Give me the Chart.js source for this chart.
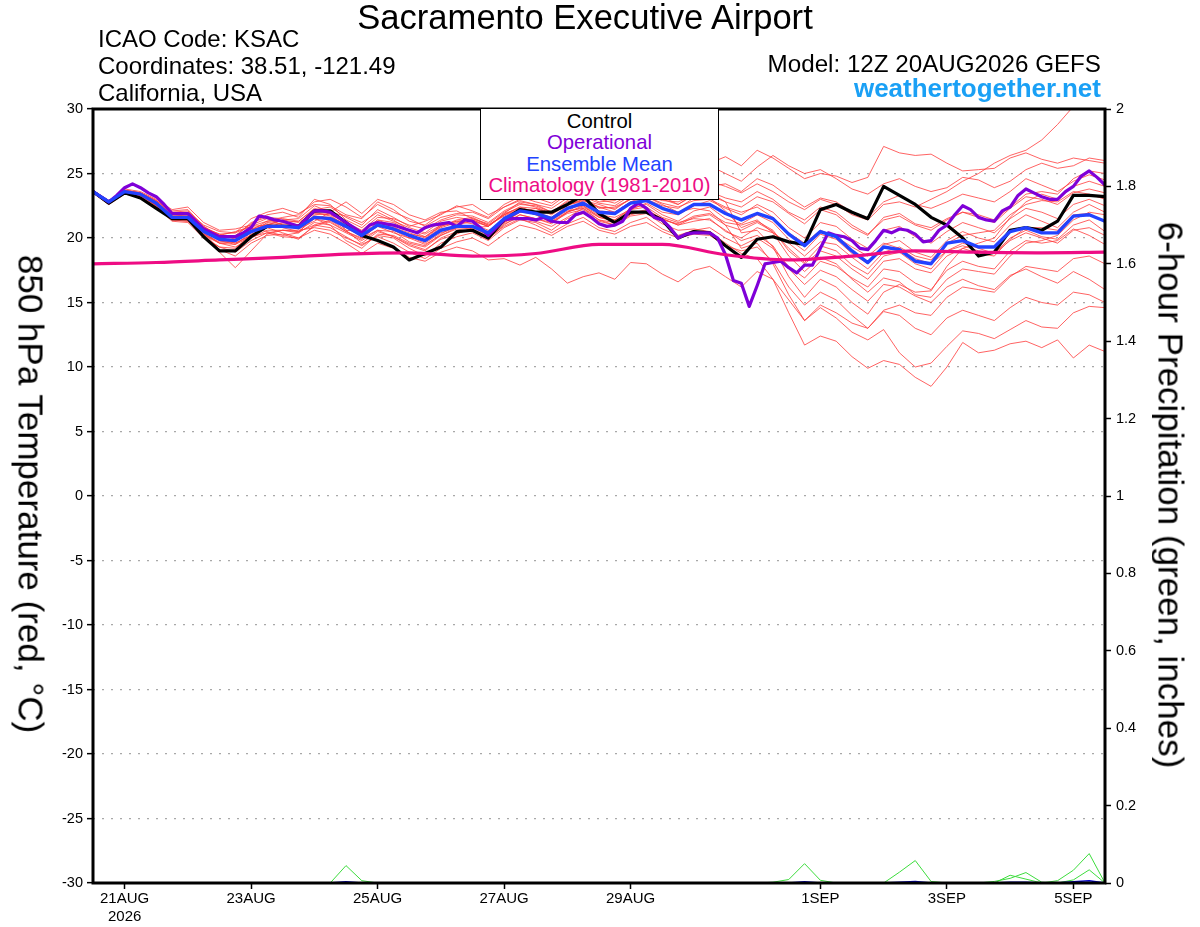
<!DOCTYPE html>
<html><head><meta charset="utf-8">
<script src="https://cdn.jsdelivr.net/npm/chart.js@4.4.1/dist/chart.umd.min.js"></script>
<style>
html,body{margin:0;padding:0;background:#fff;}
#wrap{position:relative;width:1200px;height:927px;overflow:hidden;font-family:"Liberation Sans",Arial,Helvetica,sans-serif;color:#000;}
#c{position:absolute;left:0;top:0;}
.t{position:absolute;white-space:nowrap;line-height:1;}
#title{left:585px;top:-0.5px;font-size:34.6px;transform:translateX(-50%);}
#icao{left:98px;top:26.5px;font-size:24px;}
#coord{left:98px;top:53.5px;font-size:24px;}
#place{left:98px;top:80.5px;font-size:24px;}
#model{right:99px;top:51.5px;font-size:24.2px;}
#site{right:99px;top:75px;font-size:26px;font-weight:bold;color:#1aa0f5;}
.yt{position:absolute;white-space:nowrap;line-height:1;font-size:35px;transform:translate(-50%,-50%) rotate(90deg);}
#ylt{left:31px;top:494px;}
#yrt{left:1171px;top:495px;}
#legend{position:absolute;left:480px;top:108px;width:237px;height:88px;border:1px solid #000;background:#fff;text-align:center;font-size:20.3px;padding-top:2px;box-sizing:content-box;}
#legend div{line-height:21.3px;white-space:nowrap;}
</style></head><body>
<div id="wrap">
<canvas id="c" width="1200" height="927"></canvas>
<div class="t" id="title">Sacramento Executive Airport</div>
<div class="t" id="icao">ICAO Code: KSAC</div>
<div class="t" id="coord">Coordinates: 38.51, -121.49</div>
<div class="t" id="place">California, USA</div>
<div class="t" id="model">Model: 12Z 20AUG2026 GEFS</div>
<div class="t" id="site">weathertogether.net</div>
<div class="yt" id="ylt">850 hPa Temperature (red, °C)</div>
<div class="yt" id="yrt">6-hour Precipitation (green, inches)</div>
<div id="legend">
<div style="color:#000">Control</div>
<div style="color:#7f00d8">Operational</div>
<div style="color:#2242ff">Ensemble Mean</div>
<div style="color:#ee0c84">Climatology (1981-2010)</div>
</div>
</div>
<script>
// ---- time axis (hours after 12Z 20AUG2026) ----
const xTickHours = [12, 60, 108, 156, 204, 276, 324, 372];
const xTickLabels = [['21AUG','2026'], '23AUG', '25AUG', '27AUG', '29AUG', '1SEP', '3SEP', '5SEP'];
const memberStepHours = 6;
const operStepHours = 3;
const climStepHours = 24;

// ---- 850 hPa temperature (C) ----
const control = [23.6,22.7,23.5,23.1,22.3,21.5,21.5,20.1,19.0,19.0,20.1,20.9,20.9,20.9,22.1,22.1,21.2,20.2,19.8,19.3,18.3,18.8,19.3,20.5,20.6,20.0,21.4,22.2,22.0,22.0,22.6,23.3,21.9,21.2,22.0,22.0,21.4,20.0,20.5,20.4,19.4,18.5,19.9,20.1,19.7,19.5,22.2,22.6,22.0,21.5,24.0,23.3,22.6,21.6,21.0,20.0,18.6,18.9,20.6,20.8,20.6,21.3,23.3,23.3,23.2];
const ensMean = [23.6,22.8,23.6,23.4,22.7,21.6,21.6,20.5,19.9,19.8,20.5,20.9,20.9,20.8,21.6,21.5,20.9,20.2,21.0,20.7,20.2,19.8,20.6,20.9,20.9,20.4,21.5,22.1,21.9,21.5,22.3,22.7,22.0,21.9,22.7,22.9,22.3,21.9,22.6,22.6,21.9,21.4,21.9,21.5,20.3,19.4,20.5,20.1,19.0,18.1,19.3,19.1,18.2,18.0,19.6,19.8,19.3,19.3,20.5,20.8,20.4,20.4,21.7,21.8,21.3];
const operational = [23.6,23.2,22.8,23.3,23.9,24.2,23.9,23.5,23.2,22.6,21.9,21.9,21.9,21.3,20.7,20.4,20.1,20.1,20.1,20.4,20.8,21.7,21.6,21.4,21.3,21.1,20.9,21.5,22.1,22.1,22.0,21.6,21.2,20.8,20.4,21.0,21.2,21.1,21.0,20.8,20.6,20.4,20.8,21.0,21.1,21.2,20.9,21.4,21.3,20.8,20.2,20.8,21.4,21.5,21.5,21.5,21.4,21.6,21.3,21.2,21.2,21.8,22.0,21.6,21.1,20.9,21.0,21.3,22.3,22.7,22.3,21.6,21.4,20.8,20.0,20.3,20.4,20.4,20.4,20.0,18.7,16.7,16.5,14.7,16.3,18.0,18.1,18.2,17.7,17.3,17.9,17.9,19.2,20.4,20.2,20.1,19.8,19.2,19.1,19.8,20.6,20.4,20.7,20.6,20.3,19.7,19.8,20.6,21.0,21.8,22.5,22.2,21.6,21.4,21.3,22.1,22.4,23.3,23.8,23.5,23.2,23.0,23.0,23.6,24.0,24.8,25.2,24.7,24.1];
const climatology = [18.0,18.1,18.3,18.5,18.75,18.85,18.6,18.8,19.5,19.5,18.7,18.3,18.6,19.0,18.9,18.85,18.9];

const member01 = [23.7,22.9,23.7,23.5,22.9,22.0,22.1,20.9,20.2,20.1,21.2,21.6,21.5,21.3,22.2,22.4,21.6,21.0,22.2,21.6,20.9,21.3,21.8,22.5,22.1,21.6,22.6,23.2,22.8,22.5,23.4,23.8,23.0,22.7,23.4,24.0,23.6,23.0,23.9,24.4,24.0,23.5,24.2,23.6,22.8,22.2,23.0,22.6,21.8,21.4,22.6,22.8,22.4,23.0,23.6,24.4,25.0,25.8,26.4,26.8,27.6,28.8,30.2,31.4,32.0];
const member02 = [23.6,22.7,23.5,23.3,22.5,21.4,21.3,20.2,19.6,19.3,20.0,20.6,20.6,20.5,21.5,21.0,20.4,19.8,20.6,20.5,19.7,19.4,20.3,21.0,21.3,20.9,21.9,22.8,22.6,22.0,22.9,23.6,23.0,23.3,24.2,24.5,24.1,24.6,25.4,25.8,26.3,25.6,26.8,26.2,25.4,24.6,25.0,24.8,24.3,24.7,27.1,26.6,26.4,26.5,25.8,25.2,25.3,25.4,26.2,26.6,26.1,25.8,26.2,26.0,25.8];
const member03 = [23.7,22.8,23.7,23.5,22.8,21.9,21.8,20.8,20.3,20.4,21.5,22.0,22.3,21.9,22.6,22.5,21.8,21.5,22.8,22.2,21.3,21.0,21.9,22.4,22.6,21.8,22.4,23.0,23.1,22.7,23.5,24.1,23.4,23.0,23.8,24.2,23.4,23.7,24.8,25.6,25.0,24.4,25.5,26.4,25.6,25.0,25.3,24.6,23.8,23.4,24.2,24.6,24.0,23.6,23.9,24.7,24.5,23.9,24.4,25.3,25.8,25.4,25.6,26.2,26.0];
const member04 = [23.5,22.6,23.4,23.2,22.4,21.3,21.2,20.0,19.3,19.2,20.3,20.8,20.4,20.0,20.9,21.3,20.5,20.0,20.6,20.1,19.5,19.1,19.9,20.3,20.8,20.9,21.8,22.2,21.8,21.2,22.0,22.9,22.6,22.2,23.1,23.6,23.2,22.6,23.4,24.0,24.2,23.6,24.6,24.1,23.2,22.4,23.1,22.8,22.0,21.6,22.8,23.3,22.6,22.3,22.8,23.4,23.1,22.8,23.6,24.6,24.1,23.6,24.4,24.9,24.5];
const member05 = [23.6,22.8,23.6,23.4,22.7,21.8,21.9,20.6,20.0,19.6,20.2,21.0,21.4,21.2,22.0,21.7,21.0,20.4,21.4,21.2,20.6,20.1,21.0,21.3,21.1,20.6,21.2,22.0,22.3,21.9,22.6,22.8,22.1,22.0,22.8,23.0,22.5,22.3,23.1,23.3,22.8,22.4,23.2,22.8,21.9,21.1,22.2,21.8,20.8,20.2,21.6,21.9,21.1,20.8,21.5,22.0,21.6,21.2,22.3,23.2,23.0,22.6,23.5,23.8,23.5];
const member06 = [23.7,22.9,23.8,23.6,23.0,22.2,22.4,21.2,20.6,20.7,21.0,21.5,21.0,20.7,21.3,22.0,22.8,21.9,23.0,22.6,21.8,21.4,22.0,22.1,21.5,21.0,21.7,22.2,21.8,21.3,22.0,22.5,21.6,21.4,22.2,22.7,22.0,21.8,22.5,22.9,22.3,21.8,22.6,22.0,20.8,20.0,21.2,20.9,19.9,19.2,20.6,20.9,20.1,19.6,20.5,21.2,20.8,20.4,21.5,22.3,22.0,21.5,22.6,23.0,22.5];
const member07 = [23.5,22.7,23.5,23.3,22.6,21.4,21.5,20.3,19.7,19.8,20.8,20.5,20.2,20.4,21.8,21.9,20.6,19.6,20.5,20.1,19.4,19.0,20.0,20.5,20.6,19.9,21.0,21.8,21.5,21.1,22.0,22.4,21.7,21.4,22.3,22.6,21.8,21.3,22.1,22.4,21.5,21.1,21.8,21.2,19.9,19.0,20.3,19.9,18.8,18.0,19.5,19.8,18.9,18.5,19.8,20.5,20.0,19.7,21.0,21.8,21.3,20.8,22.0,22.6,22.0];
const member08 = [23.6,22.8,23.6,23.3,22.5,21.5,21.4,20.4,19.1,18.6,19.6,20.2,20.3,19.9,21.0,20.8,20.1,19.4,20.2,20.0,19.2,18.6,19.6,20.1,20.4,19.8,20.8,21.4,21.2,20.6,21.5,21.9,21.3,21.0,21.8,22.1,21.5,21.0,21.6,21.8,21.0,20.6,21.2,20.5,19.2,18.1,19.4,19.0,17.9,17.2,18.6,18.9,18.0,17.6,19.0,19.6,19.2,18.8,20.0,20.6,20.1,19.9,21.0,21.4,20.5];
const member09 = [23.6,22.9,23.7,23.5,22.8,21.7,21.6,20.5,19.8,19.5,20.4,21.2,21.1,21.0,21.5,21.2,20.5,19.9,21.0,20.6,20.0,19.5,20.2,20.7,20.5,19.9,21.1,21.6,21.3,20.9,21.6,22.3,21.6,21.3,21.9,22.2,21.5,21.0,21.3,21.5,20.5,20.0,20.8,20.4,19.6,18.6,19.7,19.5,18.5,17.6,18.9,19.3,18.6,18.3,19.6,20.2,20.4,20.6,21.8,22.6,22.9,22.8,23.6,23.4,23.0];
const member10 = [23.5,22.6,23.5,23.3,22.6,21.5,21.4,20.1,18.9,17.7,19.0,20.3,20.6,20.4,21.2,21.0,19.8,19.2,20.3,20.2,19.6,19.3,20.2,20.8,20.7,20.0,20.9,21.5,21.0,20.4,21.1,21.6,20.8,20.5,21.2,21.6,20.7,20.2,20.6,20.8,20.0,19.4,20.0,19.2,17.8,16.9,18.2,17.8,16.9,16.2,17.6,17.4,16.5,16.0,17.5,18.2,17.8,17.6,19.0,19.8,19.6,19.8,20.7,20.2,19.5];
const member11 = [23.7,22.8,23.7,23.4,22.7,21.6,21.7,20.7,20.1,20.2,21.1,21.8,22.0,21.6,23.0,22.6,21.4,20.8,21.8,21.3,20.8,20.4,21.3,21.6,21.4,20.9,21.8,22.4,22.0,21.6,22.3,22.5,21.8,21.6,22.2,22.4,21.6,21.2,21.5,21.4,20.6,19.8,20.2,19.4,17.6,16.4,17.5,17.0,16.0,15.1,16.4,16.2,15.5,15.0,16.2,16.8,16.3,16.0,17.1,17.6,17.0,16.5,17.4,16.8,16.0];
const member12 = [23.6,22.7,23.6,23.4,22.6,21.5,21.5,20.4,19.6,19.5,20.1,20.4,20.6,20.6,20.8,20.6,20.0,19.5,20.1,19.6,18.9,18.4,19.2,19.7,20.0,19.4,20.3,21.0,20.7,20.2,20.9,21.3,20.6,20.3,20.9,21.2,20.5,20.0,20.3,20.2,19.4,19.0,19.3,18.2,16.2,14.8,15.8,15.2,14.0,13.0,14.3,14.0,13.0,12.5,13.8,14.4,14.0,13.6,14.6,15.4,15.0,14.8,15.8,15.6,15.0];
const member13 = [23.6,22.8,23.6,23.4,22.8,21.7,21.8,20.8,20.3,19.9,20.7,21.1,20.8,20.5,21.0,21.4,20.8,20.1,20.9,20.4,20.0,19.9,20.8,21.2,21.4,20.9,21.9,22.3,22.0,21.4,22.1,22.3,21.4,21.0,21.7,21.9,21.1,20.6,20.7,20.5,19.6,18.8,18.4,16.8,14.2,11.7,12.4,12.0,10.8,9.9,10.5,10.2,9.2,8.5,10.0,11.9,11.1,11.3,11.8,12.0,11.5,12.1,10.7,11.7,11.2];
const member14 = [23.7,22.8,23.6,23.4,22.7,21.6,21.7,20.5,19.9,19.6,20.2,20.8,21.2,21.3,22.3,21.9,21.2,20.6,21.6,21.5,21.0,20.7,21.4,21.8,21.7,21.2,22.1,22.7,22.4,21.9,22.6,23.0,22.3,22.4,23.0,23.2,22.6,22.0,22.3,22.1,21.0,19.2,19.6,18.0,15.6,13.6,14.6,13.8,12.7,12.1,12.9,11.1,10.0,10.3,11.6,12.8,12.6,12.2,12.9,13.6,13.1,13.0,14.2,14.7,14.6];
const member15 = [23.6,22.9,23.6,23.5,22.9,21.9,22.0,21.0,20.5,20.4,20.9,21.3,21.6,21.8,22.8,23.0,22.4,21.6,22.6,22.0,21.5,20.9,21.6,21.9,22.0,21.5,22.4,22.9,22.6,22.3,23.1,23.4,22.8,22.9,23.6,23.9,23.4,23.2,23.6,23.5,22.8,20.4,20.6,19.3,17.0,15.4,16.8,16.2,15.0,14.1,15.8,16.4,15.8,15.9,17.8,19.2,19.6,20.0,21.6,22.8,23.4,23.0,24.0,24.4,24.0];
const member16 = [23.5,22.7,23.5,23.3,22.5,21.4,21.3,20.1,19.3,18.9,19.8,20.4,20.1,20.0,20.6,20.3,19.6,18.8,19.6,19.2,18.5,18.2,18.9,19.3,19.0,18.3,18.4,17.9,18.5,17.6,16.5,17.0,17.3,16.8,18.1,18.0,17.2,16.6,17.5,17.8,17.0,16.2,17.4,16.8,15.2,13.6,14.8,14.2,13.4,13.0,14.4,14.8,14.2,14.0,15.4,16.2,16.0,15.8,17.0,17.8,17.6,17.4,18.4,18.6,18.0];
const member17 = [23.6,22.8,23.6,23.4,22.8,21.8,21.7,20.5,19.8,19.9,20.6,21.0,21.0,20.9,21.7,21.6,21.1,20.3,21.2,20.8,20.4,20.0,20.9,21.3,21.5,21.1,22.0,22.6,22.5,22.0,22.8,23.2,22.7,22.5,23.3,23.6,23.0,22.6,23.3,23.6,23.1,22.8,23.6,23.0,22.0,21.4,22.4,22.0,21.0,20.3,21.4,21.7,21.0,20.6,21.4,22.0,21.8,21.4,22.4,23.4,23.6,23.4,24.6,25.2,25.0];
const member18 = [23.7,22.9,23.7,23.5,22.9,22.1,22.2,20.9,20.1,20.0,20.6,21.3,21.3,21.0,21.6,21.4,20.6,20.5,21.4,20.9,20.1,19.6,20.4,20.8,20.9,20.2,21.2,21.8,21.5,21.2,21.9,22.2,21.4,21.2,21.9,22.1,21.4,21.1,21.7,21.9,21.2,21.0,21.4,20.4,18.6,17.4,18.5,18.0,16.8,15.8,16.9,16.6,15.6,15.4,16.8,17.6,17.4,17.2,18.6,19.6,19.8,20.2,21.4,22.0,21.8];
const member19 = [23.6,22.8,23.6,23.3,22.6,21.5,21.4,20.3,19.6,19.7,20.6,21.0,20.9,21.0,21.9,21.8,21.3,20.0,21.0,20.6,20.3,20.1,20.9,21.4,21.6,21.0,21.8,22.4,22.3,21.8,22.6,22.9,22.4,22.3,23.0,23.2,22.7,22.4,22.9,23.0,22.4,22.0,22.4,21.6,20.4,19.6,20.6,20.1,19.3,18.6,19.6,19.2,18.4,18.0,19.0,19.4,19.0,18.8,19.8,20.4,20.0,19.6,20.6,20.8,20.2];
const member20 = [23.6,22.7,23.5,23.3,22.6,21.6,21.5,20.6,20.2,20.5,20.9,21.0,21.4,21.5,22.5,22.0,21.7,21.2,22.0,21.4,20.6,20.3,21.0,21.1,20.8,20.2,21.3,22.0,21.9,21.6,22.5,23.0,22.4,22.0,22.8,23.3,22.9,22.8,23.3,23.1,22.1,20.8,21.3,20.6,19.0,18.0,19.0,18.6,17.6,16.8,18.2,18.4,17.6,17.3,18.6,19.2,18.8,18.6,19.9,20.8,20.8,20.6,21.8,21.9,21.2];
const members = [member01,member02,member03,member04,member05,member06,member07,member08,member09,member10,member11,member12,member13,member14,member15,member16,member17,member18,member19,member20];

// ---- 6-hour precipitation (inches) ----
const precipA = [0,0,0,0,0,0,0,0,0,0, 0,0,0,0,0,0,0.045,0.006,0,0, 0,0,0,0,0,0,0,0,0,0, 0,0,0,0,0,0,0,0,0,0, 0,0,0,0,0,0,0,0,0,0, 0,0,0,0,0,0,0,0,0,0, 0,0,0,0,0];
const precipB = [0,0,0,0,0,0,0,0,0,0, 0,0,0,0,0,0,0,0,0,0, 0,0,0,0,0,0,0,0,0,0, 0,0,0,0,0,0,0,0,0,0, 0,0,0,0.002,0.009,0.05,0.007,0,0,0, 0,0.028,0.058,0.004,0,0,0,0,0,0, 0,0.006,0.033,0.076,0];
const precipC = [0,0,0,0,0,0,0,0,0,0, 0,0,0,0,0,0,0,0,0,0, 0,0,0,0,0,0,0,0,0,0, 0,0,0,0,0,0,0,0,0,0, 0,0,0,0,0,0,0,0,0,0, 0,0,0,0,0,0,0,0,0.02,0.01, 0,0,0.008,0.034,0];
const precipD = [0,0,0,0,0,0,0,0,0,0, 0,0,0,0,0,0,0,0,0,0, 0,0,0,0,0,0,0,0,0,0, 0,0,0,0,0,0,0,0,0,0, 0,0,0,0,0,0,0,0,0,0, 0,0,0,0,0,0,0,0.004,0.012,0.027, 0.002,0,0,0,0];
const precipMean = [0,0,0,0,0,0,0,0,0,0, 0,0,0,0,0,0,0.003,0,0,0, 0,0,0,0,0,0,0,0,0,0, 0,0,0,0,0,0,0,0,0,0, 0,0,0,0,0,0.003,0,0,0,0, 0,0.002,0.004,0,0,0,0,0,0.002,0.002, 0,0,0.003,0.006,0];
const greenPrecip = [precipA, precipB, precipC, precipD];

// ---- build chart ----
const FONT = 'Liberation Sans';
const toPts = (arr, step) => arr.map((v, i) => ({x: i * step, y: v}));
const datasets = [];
datasets.push({data: toPts(climatology, climStepHours), borderColor:'#ee0c84', borderWidth:3.2, cubicInterpolationMode:'monotone', yAxisID:'y', order:1});
datasets.push({data: toPts(ensMean, memberStepHours), borderColor:'#2242ff', borderWidth:3.4, yAxisID:'y', order:2});
datasets.push({data: toPts(operational, operStepHours), borderColor:'#7f00d8', borderWidth:3.2, yAxisID:'y', order:3});
datasets.push({data: toPts(control, memberStepHours), borderColor:'#000000', borderWidth:3.2, yAxisID:'y', order:4});
datasets.push({data: toPts(precipMean, memberStepHours), borderColor:'#0000c8', borderWidth:1.5, yAxisID:'y2', order:5});
greenPrecip.forEach(p => datasets.push({data: toPts(p, memberStepHours), borderColor:'#3ddc3d', borderWidth:1, yAxisID:'y2', order:6}));
members.forEach(m => datasets.push({data: toPts(m, memberStepHours), borderColor:'rgba(255,60,60,0.8)', borderWidth:1, yAxisID:'y', order:10}));

const framePlugin = {
  id:'frame',
  afterDatasetsDraw(c){
    const a = c.chartArea, g = c.ctx;
    g.save(); g.strokeStyle = '#000'; g.lineWidth = 3;
    g.strokeRect(a.left, a.top, a.right - a.left, a.bottom - a.top);
    g.restore();
  }
};

new Chart(document.getElementById('c').getContext('2d'), {
  type:'line',
  data:{datasets},
  plugins:[framePlugin],
  options:{
    responsive:false, animation:false, devicePixelRatio:1,
    layout:{padding:{top:109, left:0, right:0, bottom:0}},
    plugins:{legend:{display:false}, tooltip:{enabled:false}, title:{display:false}},
    elements:{point:{radius:0}, line:{tension:0, borderCapStyle:'round', borderJoinStyle:'round'}},
    scales:{
      x:{
        type:'linear', min:0, max:384,
        afterBuildTicks(s){ s.ticks = xTickHours.map(v => ({value:v})); },
        afterFit(s){ s.height = 44; },
        ticks:{autoSkip:false, maxRotation:0, minRotation:0, color:'#000', padding:1, font:{family:FONT, size:15},
          callback(v){ const k = xTickHours.indexOf(v); return k < 0 ? '' : xTickLabels[k]; }},
        grid:{drawOnChartArea:false, drawTicks:true, tickLength:6, tickColor:'#000', tickWidth:1.5},
        border:{display:false}
      },
      y:{
        position:'left', min:-30, max:30,
        afterFit(s){ s.width = 93; },
        ticks:{stepSize:5, color:'#000', padding:4, font:{family:FONT, size:14.5}},
        grid:{color:'#a8a8a8', lineWidth:1.3, tickLength:6, tickColor:'#000', tickWidth:1.5, tickBorderDash:[]},
        border:{display:false, dash:[2,7]}
      },
      y2:{
        position:'right', min:0, max:2,
        afterFit(s){ s.width = 95; },
        ticks:{stepSize:0.2, color:'#000', padding:5, font:{family:FONT, size:14.5},
          callback(v){ return String(Math.round(v * 10) / 10); }},
        grid:{drawOnChartArea:false, tickLength:6, tickColor:'#000', tickWidth:1.5},
        border:{display:false}
      }
    }
  }
});
</script>
</body></html>
